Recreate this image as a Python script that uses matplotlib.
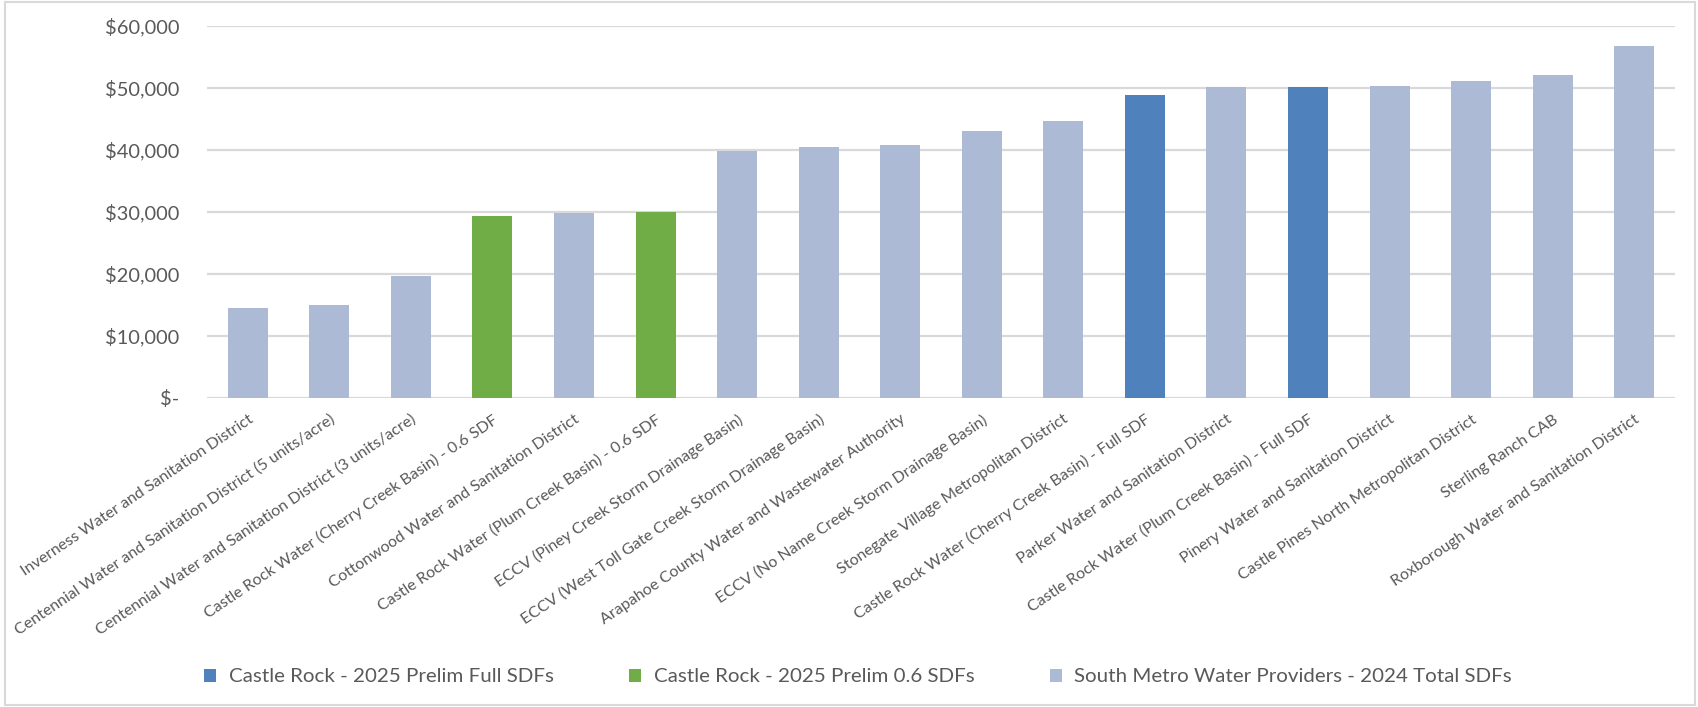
import numpy as np
import matplotlib
matplotlib.use("Agg")
import matplotlib.pyplot as plt
from matplotlib.patches import Patch, Rectangle
from matplotlib.ticker import FuncFormatter

categories = [
    "Inverness Water and Sanitation District",
    "Centennial Water and Sanitation District (5 units/acre)",
    "Centennial Water and Sanitation District (3 units/acre)",
    "Castle Rock Water (Cherry Creek Basin) - 0.6 SDF",
    "Cottonwood Water and Sanitation District",
    "Castle Rock Water (Plum Creek Basin) - 0.6 SDF",
    "ECCV (Piney Creek Storm Drainage Basin)",
    "ECCV (West Toll Gate Creek Storm Drainage Basin)",
    "Arapahoe County Water and Wastewater Authority",
    "ECCV (No Name Creek Storm Drainage Basin)",
    "Stonegate Village Metropolitan District",
    "Castle Rock Water (Cherry Creek Basin) - Full SDF",
    "Parker Water and Sanitation District",
    "Castle Rock Water (Plum Creek Basin) - Full SDF",
    "Pinery Water and Sanitation District",
    "Castle Pines North Metropolitan District",
    "Sterling Ranch CAB",
    "Roxborough Water and Sanitation District",
]

nan = np.nan
castle_rock_full = [nan, nan, nan, nan, nan, nan, nan, nan, nan, nan, nan,
                    48750, nan, 50100, nan, nan, nan, nan]
castle_rock_06 = [nan, nan, nan, 29270, nan, 30030, nan, nan, nan, nan, nan,
                  nan, nan, nan, nan, nan, nan, nan]
south_metro_2024 = [14450, 14930, 19680, nan, 29760, nan, 39780, 40380, 40810,
                    43020, 44690, nan, 50080, nan, 50240, 51160, 52020, 56710]

series_names = ["Castle Rock - 2025 Prelim Full SDFs",
                "Castle Rock - 2025 Prelim 0.6 SDFs",
                "South Metro Water Providers - 2024 Total SDFs"]
colors = ["#4F81BD", "#70AD47", "#ADBAD6"]

W, H = 1698, 707
DPI = 100
plt.rcParams['font.family'] = ['Lato', 'DejaVu Sans']
fig = plt.figure(figsize=(W / DPI, H / DPI), dpi=DPI)
text_color = "#595959"
renderer = fig.canvas.get_renderer()


def fit_size(s, target_px, base=12.0):
    t = fig.text(0, 0, s, fontsize=base)
    w = t.get_window_extent(renderer).width
    t.remove()
    return base * target_px / w


xt_size = fit_size(categories[0], 276)
yt_size = fit_size("$60,000", 74)
lg_size = fit_size(series_names[0], 323)

ax = fig.add_axes([207 / W, 1 - 397.7 / H, (1675 - 207) / W, (397.7 - 25.7) / H])
x = np.arange(len(categories))
for vals, c in zip([castle_rock_full, castle_rock_06, south_metro_2024], colors):
    ax.bar(x, vals, width=0.49, color=c, zorder=3)

ax.set_xlim(-0.5, len(categories) - 0.5)
ax.set_ylim(0, 60000)
ax.set_yticks(np.arange(0, 60001, 10000))
ax.yaxis.set_major_formatter(FuncFormatter(lambda v, p: "$-" if v == 0 else f"${v:,.0f}"))
ax.grid(axis='y', color="#D9D9D9", linewidth=1.6, zorder=0)
for s in ax.spines.values():
    s.set_visible(False)
ax.tick_params(axis='y', length=0, pad=28 * 72 / DPI, labelsize=yt_size, labelcolor=text_color)
ax.tick_params(axis='x', length=0, pad=10.5, labelsize=xt_size, labelcolor=text_color)
ax.set_xticks(x)
ax.set_xticklabels(categories, rotation=34, ha='right', va='top', rotation_mode='anchor')

em = lg_size * DPI / 72
handles = [Patch(facecolor=c, edgecolor='none') for c in colors]
fig.legend(handles, series_names, loc='center left', bbox_to_anchor=(204 / W, 1 - 677 / H),
           ncol=3, frameon=False, fontsize=lg_size, labelcolor=text_color,
           borderpad=0, borderaxespad=0,
           handlelength=12 / em, handleheight=12 / em, handletextpad=13 / em,
           columnspacing=75 / em)

fig.patches.append(Rectangle((5 / W, 2 / H), (1695 - 5) / W, (705 - 2) / H,
                             transform=fig.transFigure, fill=False,
                             edgecolor="#D9D9D9", linewidth=1.5))

fig.savefig("out.png", dpi=DPI, facecolor="white")
